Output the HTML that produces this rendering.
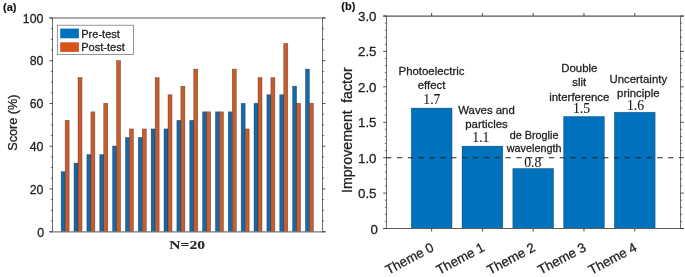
<!DOCTYPE html>
<html><head><meta charset="utf-8"><title>Figure</title>
<style>html,body{margin:0;padding:0;background:#fff}body{width:685px;height:277px;position:relative;overflow:hidden}text{stroke:#222;stroke-width:.28px;stroke-linejoin:round}text.n{stroke-width:.1px}text.b{stroke-width:.15px}</style></head>
<body>
<svg width="685" height="277" viewBox="0 0 685 277" style="position:absolute;left:0;top:0">
<rect width="685" height="277" fill="#fff"/>
<g font-family="'Liberation Sans', sans-serif" fill="#222">
<rect x="61.16" y="171.66" width="4.00" height="60.04" fill="#1569a8" stroke="#101020" stroke-opacity="0.5" stroke-width="0.6"/>
<rect x="65.16" y="120.38" width="4.00" height="111.32" fill="#c95c2c" stroke="#201010" stroke-opacity="0.5" stroke-width="0.6"/>
<rect x="74.01" y="163.12" width="4.00" height="68.58" fill="#1569a8" stroke="#101020" stroke-opacity="0.5" stroke-width="0.6"/>
<rect x="78.01" y="77.64" width="4.00" height="154.06" fill="#c95c2c" stroke="#201010" stroke-opacity="0.5" stroke-width="0.6"/>
<rect x="86.87" y="154.57" width="4.00" height="77.13" fill="#1569a8" stroke="#101020" stroke-opacity="0.5" stroke-width="0.6"/>
<rect x="90.87" y="111.83" width="4.00" height="119.87" fill="#c95c2c" stroke="#201010" stroke-opacity="0.5" stroke-width="0.6"/>
<rect x="99.73" y="154.57" width="4.00" height="77.13" fill="#1569a8" stroke="#101020" stroke-opacity="0.5" stroke-width="0.6"/>
<rect x="103.73" y="103.28" width="4.00" height="128.42" fill="#c95c2c" stroke="#201010" stroke-opacity="0.5" stroke-width="0.6"/>
<rect x="112.59" y="146.02" width="4.00" height="85.68" fill="#1569a8" stroke="#101020" stroke-opacity="0.5" stroke-width="0.6"/>
<rect x="116.59" y="60.54" width="4.00" height="171.16" fill="#c95c2c" stroke="#201010" stroke-opacity="0.5" stroke-width="0.6"/>
<rect x="125.44" y="137.47" width="4.00" height="94.23" fill="#1569a8" stroke="#101020" stroke-opacity="0.5" stroke-width="0.6"/>
<rect x="129.44" y="128.92" width="4.00" height="102.78" fill="#c95c2c" stroke="#201010" stroke-opacity="0.5" stroke-width="0.6"/>
<rect x="138.30" y="137.47" width="4.00" height="94.23" fill="#1569a8" stroke="#101020" stroke-opacity="0.5" stroke-width="0.6"/>
<rect x="142.30" y="128.92" width="4.00" height="102.78" fill="#c95c2c" stroke="#201010" stroke-opacity="0.5" stroke-width="0.6"/>
<rect x="151.16" y="128.92" width="4.00" height="102.78" fill="#1569a8" stroke="#101020" stroke-opacity="0.5" stroke-width="0.6"/>
<rect x="155.16" y="77.64" width="4.00" height="154.06" fill="#c95c2c" stroke="#201010" stroke-opacity="0.5" stroke-width="0.6"/>
<rect x="164.01" y="128.92" width="4.00" height="102.78" fill="#1569a8" stroke="#101020" stroke-opacity="0.5" stroke-width="0.6"/>
<rect x="168.01" y="94.73" width="4.00" height="136.97" fill="#c95c2c" stroke="#201010" stroke-opacity="0.5" stroke-width="0.6"/>
<rect x="176.87" y="120.38" width="4.00" height="111.32" fill="#1569a8" stroke="#101020" stroke-opacity="0.5" stroke-width="0.6"/>
<rect x="180.87" y="86.18" width="4.00" height="145.52" fill="#c95c2c" stroke="#201010" stroke-opacity="0.5" stroke-width="0.6"/>
<rect x="189.73" y="120.38" width="4.00" height="111.32" fill="#1569a8" stroke="#101020" stroke-opacity="0.5" stroke-width="0.6"/>
<rect x="193.73" y="69.09" width="4.00" height="162.61" fill="#c95c2c" stroke="#201010" stroke-opacity="0.5" stroke-width="0.6"/>
<rect x="202.59" y="111.83" width="4.00" height="119.87" fill="#1569a8" stroke="#101020" stroke-opacity="0.5" stroke-width="0.6"/>
<rect x="206.59" y="111.83" width="4.00" height="119.87" fill="#c95c2c" stroke="#201010" stroke-opacity="0.5" stroke-width="0.6"/>
<rect x="215.44" y="111.83" width="4.00" height="119.87" fill="#1569a8" stroke="#101020" stroke-opacity="0.5" stroke-width="0.6"/>
<rect x="219.44" y="111.83" width="4.00" height="119.87" fill="#c95c2c" stroke="#201010" stroke-opacity="0.5" stroke-width="0.6"/>
<rect x="228.30" y="111.83" width="4.00" height="119.87" fill="#1569a8" stroke="#101020" stroke-opacity="0.5" stroke-width="0.6"/>
<rect x="232.30" y="69.09" width="4.00" height="162.61" fill="#c95c2c" stroke="#201010" stroke-opacity="0.5" stroke-width="0.6"/>
<rect x="241.16" y="103.28" width="4.00" height="128.42" fill="#1569a8" stroke="#101020" stroke-opacity="0.5" stroke-width="0.6"/>
<rect x="245.16" y="128.92" width="4.00" height="102.78" fill="#c95c2c" stroke="#201010" stroke-opacity="0.5" stroke-width="0.6"/>
<rect x="254.01" y="103.28" width="4.00" height="128.42" fill="#1569a8" stroke="#101020" stroke-opacity="0.5" stroke-width="0.6"/>
<rect x="258.01" y="77.64" width="4.00" height="154.06" fill="#c95c2c" stroke="#201010" stroke-opacity="0.5" stroke-width="0.6"/>
<rect x="266.87" y="94.73" width="4.00" height="136.97" fill="#1569a8" stroke="#101020" stroke-opacity="0.5" stroke-width="0.6"/>
<rect x="270.87" y="77.64" width="4.00" height="154.06" fill="#c95c2c" stroke="#201010" stroke-opacity="0.5" stroke-width="0.6"/>
<rect x="279.73" y="94.73" width="4.00" height="136.97" fill="#1569a8" stroke="#101020" stroke-opacity="0.5" stroke-width="0.6"/>
<rect x="283.73" y="43.44" width="4.00" height="188.26" fill="#c95c2c" stroke="#201010" stroke-opacity="0.5" stroke-width="0.6"/>
<rect x="292.59" y="86.18" width="4.00" height="145.52" fill="#1569a8" stroke="#101020" stroke-opacity="0.5" stroke-width="0.6"/>
<rect x="296.59" y="103.28" width="4.00" height="128.42" fill="#c95c2c" stroke="#201010" stroke-opacity="0.5" stroke-width="0.6"/>
<rect x="305.44" y="69.09" width="4.00" height="162.61" fill="#1569a8" stroke="#101020" stroke-opacity="0.5" stroke-width="0.6"/>
<rect x="309.44" y="103.28" width="4.00" height="128.42" fill="#c95c2c" stroke="#201010" stroke-opacity="0.5" stroke-width="0.6"/>
<path d="M52.5 18.0V231.7M322.5 18.0V231.7" fill="none" stroke="#5c5c5c" stroke-width="0.9"/>
<path d="M49.5 18.0H325.5" fill="none" stroke="#5a5a5a" stroke-width="1.05"/>
<path d="M49.5 231.89999999999998H325.5" fill="none" stroke="#777" stroke-width="1.25"/>
<path d="M52.5 231.70h-3M322.5 231.70h3" stroke="#333" stroke-width="0.85"/>
<path d="M52.5 221.01h-1.6M322.5 221.01h1.6" stroke="#333" stroke-width="0.7"/>
<path d="M52.5 210.33h-1.6M322.5 210.33h1.6" stroke="#333" stroke-width="0.7"/>
<path d="M52.5 199.64h-1.6M322.5 199.64h1.6" stroke="#333" stroke-width="0.7"/>
<path d="M52.5 188.96h-3M322.5 188.96h3" stroke="#333" stroke-width="0.85"/>
<path d="M52.5 178.27h-1.6M322.5 178.27h1.6" stroke="#333" stroke-width="0.7"/>
<path d="M52.5 167.59h-1.6M322.5 167.59h1.6" stroke="#333" stroke-width="0.7"/>
<path d="M52.5 156.90h-1.6M322.5 156.90h1.6" stroke="#333" stroke-width="0.7"/>
<path d="M52.5 146.22h-3M322.5 146.22h3" stroke="#333" stroke-width="0.85"/>
<path d="M52.5 135.53h-1.6M322.5 135.53h1.6" stroke="#333" stroke-width="0.7"/>
<path d="M52.5 124.85h-1.6M322.5 124.85h1.6" stroke="#333" stroke-width="0.7"/>
<path d="M52.5 114.16h-1.6M322.5 114.16h1.6" stroke="#333" stroke-width="0.7"/>
<path d="M52.5 103.48h-3M322.5 103.48h3" stroke="#333" stroke-width="0.85"/>
<path d="M52.5 92.79h-1.6M322.5 92.79h1.6" stroke="#333" stroke-width="0.7"/>
<path d="M52.5 82.11h-1.6M322.5 82.11h1.6" stroke="#333" stroke-width="0.7"/>
<path d="M52.5 71.42h-1.6M322.5 71.42h1.6" stroke="#333" stroke-width="0.7"/>
<path d="M52.5 60.74h-3M322.5 60.74h3" stroke="#333" stroke-width="0.85"/>
<path d="M52.5 50.05h-1.6M322.5 50.05h1.6" stroke="#333" stroke-width="0.7"/>
<path d="M52.5 39.37h-1.6M322.5 39.37h1.6" stroke="#333" stroke-width="0.7"/>
<path d="M52.5 28.68h-1.6M322.5 28.68h1.6" stroke="#333" stroke-width="0.7"/>
<path d="M52.5 18.00h-3M322.5 18.00h3" stroke="#333" stroke-width="0.85"/>
<text x="44.0" y="236.90" font-size="12.3" text-anchor="end">0</text>
<text x="43.4" y="193.56" font-size="12.3" text-anchor="end">20</text>
<text x="43.4" y="150.82" font-size="12.3" text-anchor="end">40</text>
<text x="43.4" y="108.08" font-size="12.3" text-anchor="end">60</text>
<text x="43.4" y="65.34" font-size="12.3" text-anchor="end">80</text>
<text x="43.4" y="22.60" font-size="12.3" text-anchor="end">100</text>
<text transform="translate(16.6,122.6) rotate(-90)" font-size="12.7" text-anchor="middle">Score (%)</text>
<rect x="57.3" y="25.2" width="76.1" height="29.2" fill="#fff" stroke="#6a6a6a" stroke-width="0.7"/>
<rect x="60.2" y="28.6" width="18.7" height="9.7" fill="#0072BD"/>
<rect x="60.2" y="42.3" width="18.7" height="9.6" fill="#D95319"/>
<text x="81.2" y="37.9" font-size="11.05">Pre-test</text>
<text x="81.2" y="51.2" font-size="11.05">Post-test</text>
<text x="3.1" y="11" font-size="11" font-weight="bold" fill="#111" class="b">(a)</text>
<text transform="translate(187.1,248.7) scale(1.2,1)" font-size="13" font-weight="bold" text-anchor="middle" font-family="'Liberation Serif', serif" fill="#2a2a2a" class="n">N=20</text>
<rect x="411.25" y="108.08" width="40.80" height="120.42" fill="#0072BD" stroke="#00182e" stroke-opacity="0.45" stroke-width="0.6"/>
<rect x="462.02" y="146.12" width="40.80" height="82.38" fill="#0072BD" stroke="#00182e" stroke-opacity="0.45" stroke-width="0.6"/>
<rect x="512.80" y="168.43" width="40.80" height="60.07" fill="#0072BD" stroke="#00182e" stroke-opacity="0.45" stroke-width="0.6"/>
<rect x="563.57" y="116.44" width="40.80" height="112.06" fill="#0072BD" stroke="#00182e" stroke-opacity="0.45" stroke-width="0.6"/>
<rect x="614.35" y="112.19" width="40.80" height="116.31" fill="#0072BD" stroke="#00182e" stroke-opacity="0.45" stroke-width="0.6"/>
<path d="M386.5 16.0V228.5M680.5 16.0V228.5" fill="none" stroke="#5c5c5c" stroke-width="0.9"/>
<path d="M383.2 16.12H683.8" fill="none" stroke="#555" stroke-width="1.15"/>
<path d="M383.2 228.5H683.8" fill="none" stroke="#5c5c5c" stroke-width="1"/>
<path d="M386.1 157.67H680.5" stroke="#222" stroke-width="1.05" stroke-dasharray="5.3 5.55"/>
<path d="M386.5 228.50h-3.3M680.5 228.50h3.3" stroke="#333" stroke-width="0.85"/>
<path d="M386.5 221.42h-1.7M680.5 221.42h1.7" stroke="#333" stroke-width="0.7"/>
<path d="M386.5 214.33h-1.7M680.5 214.33h1.7" stroke="#333" stroke-width="0.7"/>
<path d="M386.5 207.25h-1.7M680.5 207.25h1.7" stroke="#333" stroke-width="0.7"/>
<path d="M386.5 200.17h-1.7M680.5 200.17h1.7" stroke="#333" stroke-width="0.7"/>
<path d="M386.5 193.08h-3.3M680.5 193.08h3.3" stroke="#333" stroke-width="0.85"/>
<path d="M386.5 186.00h-1.7M680.5 186.00h1.7" stroke="#333" stroke-width="0.7"/>
<path d="M386.5 178.92h-1.7M680.5 178.92h1.7" stroke="#333" stroke-width="0.7"/>
<path d="M386.5 171.83h-1.7M680.5 171.83h1.7" stroke="#333" stroke-width="0.7"/>
<path d="M386.5 164.75h-1.7M680.5 164.75h1.7" stroke="#333" stroke-width="0.7"/>
<path d="M386.5 157.67h-3.3M680.5 157.67h3.3" stroke="#333" stroke-width="0.85"/>
<path d="M386.5 150.58h-1.7M680.5 150.58h1.7" stroke="#333" stroke-width="0.7"/>
<path d="M386.5 143.50h-1.7M680.5 143.50h1.7" stroke="#333" stroke-width="0.7"/>
<path d="M386.5 136.42h-1.7M680.5 136.42h1.7" stroke="#333" stroke-width="0.7"/>
<path d="M386.5 129.33h-1.7M680.5 129.33h1.7" stroke="#333" stroke-width="0.7"/>
<path d="M386.5 122.25h-3.3M680.5 122.25h3.3" stroke="#333" stroke-width="0.85"/>
<path d="M386.5 115.17h-1.7M680.5 115.17h1.7" stroke="#333" stroke-width="0.7"/>
<path d="M386.5 108.08h-1.7M680.5 108.08h1.7" stroke="#333" stroke-width="0.7"/>
<path d="M386.5 101.00h-1.7M680.5 101.00h1.7" stroke="#333" stroke-width="0.7"/>
<path d="M386.5 93.92h-1.7M680.5 93.92h1.7" stroke="#333" stroke-width="0.7"/>
<path d="M386.5 86.83h-3.3M680.5 86.83h3.3" stroke="#333" stroke-width="0.85"/>
<path d="M386.5 79.75h-1.7M680.5 79.75h1.7" stroke="#333" stroke-width="0.7"/>
<path d="M386.5 72.67h-1.7M680.5 72.67h1.7" stroke="#333" stroke-width="0.7"/>
<path d="M386.5 65.58h-1.7M680.5 65.58h1.7" stroke="#333" stroke-width="0.7"/>
<path d="M386.5 58.50h-1.7M680.5 58.50h1.7" stroke="#333" stroke-width="0.7"/>
<path d="M386.5 51.42h-3.3M680.5 51.42h3.3" stroke="#333" stroke-width="0.85"/>
<path d="M386.5 44.33h-1.7M680.5 44.33h1.7" stroke="#333" stroke-width="0.7"/>
<path d="M386.5 37.25h-1.7M680.5 37.25h1.7" stroke="#333" stroke-width="0.7"/>
<path d="M386.5 30.17h-1.7M680.5 30.17h1.7" stroke="#333" stroke-width="0.7"/>
<path d="M386.5 23.08h-1.7M680.5 23.08h1.7" stroke="#333" stroke-width="0.7"/>
<path d="M386.5 16.00h-3.3M680.5 16.00h3.3" stroke="#333" stroke-width="0.85"/>
<path d="M431.65 16.0v-3M431.65 228.5v3" stroke="#333" stroke-width="0.85"/>
<path d="M482.42 16.0v-3M482.42 228.5v3" stroke="#333" stroke-width="0.85"/>
<path d="M533.20 16.0v-3M533.20 228.5v3" stroke="#333" stroke-width="0.85"/>
<path d="M583.97 16.0v-3M583.97 228.5v3" stroke="#333" stroke-width="0.85"/>
<path d="M634.75 16.0v-3M634.75 228.5v3" stroke="#333" stroke-width="0.85"/>
<text x="377.9" y="234.25" font-size="13.3" text-anchor="end">0</text>
<text x="376.5" y="197.93" font-size="13.3" text-anchor="end">0.5</text>
<text x="376.5" y="162.52" font-size="13.3" text-anchor="end">1.0</text>
<text x="376.5" y="127.10" font-size="13.3" text-anchor="end">1.5</text>
<text x="376.5" y="91.68" font-size="13.3" text-anchor="end">2.0</text>
<text x="376.5" y="56.27" font-size="13.3" text-anchor="end">2.5</text>
<text x="376.5" y="20.85" font-size="13.3" text-anchor="end">3.0</text>
<text transform="translate(352.3,130.2) rotate(-90)" font-size="14.2" word-spacing="3.5" text-anchor="middle">Improvement factor</text>
<text x="341.3" y="10.1" font-size="11" font-weight="bold" fill="#111" class="b">(b)</text>
<text transform="translate(434.75,250.2) rotate(-28)" font-size="13.3" text-anchor="end">Theme 0</text>
<text transform="translate(485.52,250.2) rotate(-28)" font-size="13.3" text-anchor="end">Theme 1</text>
<text transform="translate(536.30,250.2) rotate(-28)" font-size="13.3" text-anchor="end">Theme 2</text>
<text transform="translate(587.07,250.2) rotate(-28)" font-size="13.3" text-anchor="end">Theme 3</text>
<text transform="translate(637.85,250.2) rotate(-28)" font-size="13.3" text-anchor="end">Theme 4</text>
<text x="431.5" y="74.70" font-size="11.4" text-anchor="middle">Photoelectric</text>
<text x="431.5" y="89.30" font-size="11.4" text-anchor="middle">effect</text>
<text transform="translate(431.90,103.5) scale(0.95,1)" font-size="14.4" text-anchor="middle" font-family="'Liberation Serif', serif" fill="#1a1a1a" class="n">1.7</text>
<text x="486.5" y="113.50" font-size="11.4" text-anchor="middle">Waves and</text>
<text x="486.5" y="128.00" font-size="11.4" text-anchor="middle">particles</text>
<text transform="translate(480.90,142.2) scale(0.95,1)" font-size="14.4" text-anchor="middle" font-family="'Liberation Serif', serif" fill="#1a1a1a" class="n">1.1</text>
<text x="534.1" y="138.50" font-size="10.8" text-anchor="middle">de Broglie</text>
<text x="534.1" y="152.10" font-size="10.8" text-anchor="middle">wavelength</text>
<text transform="translate(532.70,166.8) scale(0.95,1)" font-size="14.4" text-anchor="middle" font-family="'Liberation Serif', serif" fill="#1a1a1a" class="n">0.8</text>
<text x="579.3" y="72.20" font-size="11.4" text-anchor="middle">Double</text>
<text x="579.3" y="85.70" font-size="11.4" text-anchor="middle">slit</text>
<text x="579.3" y="101.20" font-size="11.4" text-anchor="middle">interference</text>
<text transform="translate(581.65,112.9) scale(0.95,1)" font-size="14.4" text-anchor="middle" font-family="'Liberation Serif', serif" fill="#1a1a1a" class="n">1.5</text>
<text x="638.3" y="82.80" font-size="11.4" text-anchor="middle">Uncertainty</text>
<text x="638.3" y="96.50" font-size="11.4" text-anchor="middle">principle</text>
<text transform="translate(635.50,109.9) scale(0.95,1)" font-size="14.4" text-anchor="middle" font-family="'Liberation Serif', serif" fill="#1a1a1a" class="n">1.6</text>
</g></svg>
</body></html>
